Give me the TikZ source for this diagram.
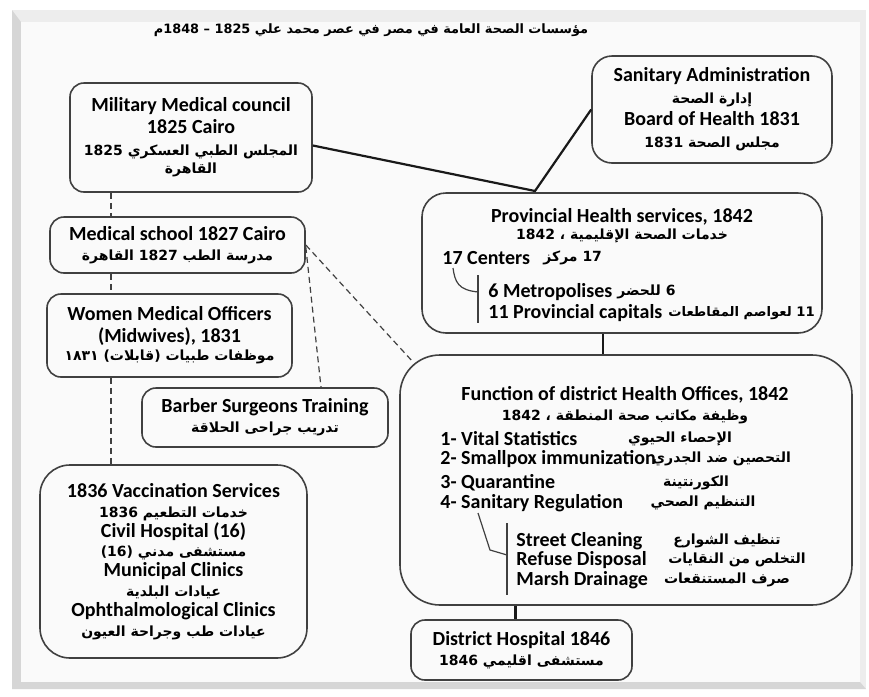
\documentclass[tikz,border=0pt]{standalone}
\usepackage{fontspec}
\setmainfont{Carlito}
\newfontfamily\arfont[Script=Arabic,Scale=0.7]{DejaVu Sans}
\TeXXeTstate=1
\newcommand{\arb}[1]{{\arfont\beginR #1\endR}}
\lineskiplimit=-20pt
\tikzset{
    box/.style={draw=black!75, line width=0.8pt, fill=gray!4, rounded corners=7pt, align=center, inner sep=0pt, font=\bfseries\fontsize{10}{11}\selectfont},
    txt/.style={inner sep=0pt, font=\bfseries\fontsize{10}{11}\selectfont},
    link/.style={line width=1.1pt, black!90},
    dlink/.style={densely dashed, line width=0.6pt, black!75},
    brk/.style={line width=0.6pt, black!75},
}
\begin{document}
\begin{tikzpicture}[x=0.5pt, y=-0.5pt]
    \useasboundingbox (0,0) rectangle (869,697);
    \fill[white] (0,0) rectangle (869,697);
    \fill[gray!14] (12,10) rectangle (866,689);
    \fill[gray!32] (12,10) -- (21,22) -- (21,682) -- (860,682) -- (866,689) -- (12,689) -- cycle;
    \fill[gray!4] (21,22) rectangle (860,682);

    \node[txt, align=center, font=\bfseries\fontsize{9.2}{12}\selectfont] (title) at (371,30) {\arb{مؤسسات الصحة العامة في مصر في عصر محمد علي 1825 – 1848\kern0ptم}};

    \node[box, minimum width=121pt, minimum height=54.5pt] (mil) at (191,137.5) {Military Medical council\\1825 Cairo\\\arb{المجلس الطبي العسكري 1825}\\[-2pt]\arb{القاهرة}};
    \node[box, rounded corners=10pt, minimum width=120pt, minimum height=53.5pt] (san) at (712,109.5) {Sanitary Administration\\\arb{إدارة الصحة}\\Board of Health 1831\\\arb{مجلس الصحة 1831}};
    \node[box, minimum width=127.5pt, minimum height=28pt] (school) at (177.5,245) {Medical school 1827 Cairo\\[-1pt]\arb{مدرسة الطب 1827 القاهرة}};
    \node[box, minimum width=122.5pt, minimum height=41.5pt] (women) at (169.5,335.5) {Women Medical Officers\\(Midwives), 1831\\[-2pt]\arb{موظفات طبيات (قابلات) ١٨٣١}};
    \node[box, minimum width=123pt, minimum height=29.5pt] (barber) at (265,417.5) {Barber Surgeons Training\\[-1pt]\arb{تدريب جراحى الحلاقة}};
    \node[box, rounded corners=15pt, minimum width=133.5pt, minimum height=96.5pt, font=\bfseries\fontsize{10}{9.9}\selectfont] (vacc) at (173.5,561.5) {1836 Vaccination Services\\\arb{خدمات التطعيم 1836}\\Civil Hospital (16)\\\arb{مستشفى مدني (16)}\\Municipal Clinics\\\arb{عيادات البلدية}\\Ophthalmological Clinics\\\arb{عيادات طب وجراحة العيون}};
    \node[box, minimum width=110.5pt, minimum height=30pt] (hosp) at (521.5,650) {District Hospital 1846\\[-1pt]\arb{مستشفى اقليمي 1846}};

    \node[box, rounded corners=12pt, minimum width=200pt, minimum height=70pt] (prov) at (622,263) {};
    \node[txt] (ptitle) at (622,217) {Provincial Health services, 1842};
    \node[txt] (ptitlear) at (622,236) {\arb{خدمات الصحة الإقليمية ، 1842}};
    \node[txt, anchor=west] (pcent) at (442,258) {17 Centers};
    \node[txt, anchor=west] (pcentar) at (543,258) {\arb{17 مركز}};
    \node[txt, anchor=west] (pmet) at (488,292) {6 Metropolises};
    \node[txt, anchor=west] (pmetar) at (617,292) {\arb{6 للحضر}};
    \node[txt, anchor=west] (pcap) at (488,313) {11 Provincial capitals};
    \node[txt, anchor=west, font=\bfseries\fontsize{9.4}{11}\selectfont] (pcapar) at (668,313) {\arb{11 لعواصم المقاطعات}};
    \coordinate (pb1) at (453,268);
    \coordinate (pb2) at (478,292);
    \draw[brk] (pb1) .. controls (455,282) and (458,290) .. (pb2);
    \draw[brk] (478,275) -- (478,323);

    \node[box, rounded corners=20pt, minimum width=226pt, minimum height=125pt] (func) at (626,480) {};
    \node[txt] (ftitle) at (625,395) {Function of district Health Offices, 1842};
    \node[txt] (ftitlear) at (625,417) {\arb{وظيفة مكاتب صحة المنطقة ، 1842}};
    \node[txt, anchor=west] (f1) at (440,439) {1- Vital Statistics};
    \node[txt] (f1ar) at (680,439) {\arb{الإحصاء الحيوي}};
    \node[txt, anchor=west] (f2) at (440,459) {2- Smallpox immunization};
    \node[txt, anchor=west] (f2ar) at (652,459) {\arb{التحصين ضد الجدري}};
    \node[txt, anchor=west] (f3) at (440,483) {3- Quarantine};
    \node[txt] (f3ar) at (696,483) {\arb{الكورنتينة}};
    \node[txt, anchor=west] (f4) at (440,503) {4- Sanitary Regulation};
    \node[txt] (f4ar) at (703,503) {\arb{التنظيم الصحي}};
    \node[txt, anchor=west] (s1) at (516,541) {Street Cleaning};
    \node[txt] (s1ar) at (727,541) {\arb{تنظيف الشوارع}};
    \node[txt, anchor=west] (s2) at (516,560) {Refuse Disposal};
    \node[txt] (s2ar) at (737,560) {\arb{التخلص من النقايات}};
    \node[txt, anchor=west] (s3) at (516,580) {Marsh Drainage};
    \node[txt] (s3ar) at (727,580) {\arb{صرف المستنقعات}};
    \coordinate (fb1) at (478,513);
    \coordinate (fb2) at (507,555);
    \draw[brk] (fb1) -- (490,550) -- (fb2);
    \draw[brk] (507,523) -- (507,595);

    \coordinate (jn) at (535,191);
    \draw[link] ([yshift=-4pt]mil.east) -- (jn) -- (san.west);
    \draw[link] ([xshift=-9.5pt]prov.south) -- ([xshift=-9.5pt]prov.south |- func.north);
    \draw[link] ([xshift=-3pt]hosp.north |- func.south) -- ([xshift=-3pt]hosp.north);

    \coordinate (vl) at (111,0);
    \draw[dlink] (mil.south -| vl) -- (school.north -| vl);
    \draw[dlink] (school.south -| vl) -- (women.north -| vl);
    \draw[dlink] (women.south -| vl) -- (vacc.north -| vl);
    \draw[dlink] ([yshift=-1pt]school.east) -- ([xshift=28pt]barber.north);
    \draw[dlink] (school.east) -- ([shift={(7pt,-4pt)}]func.north west);
\end{tikzpicture}
\end{document}
